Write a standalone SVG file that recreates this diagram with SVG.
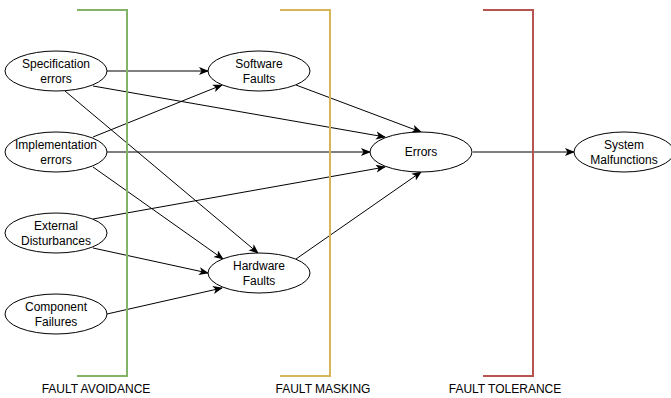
<svg xmlns="http://www.w3.org/2000/svg" width="671" height="398" viewBox="0 0 671 398">
<defs>
<style>
.n ellipse{fill:#fff;stroke:#000;stroke-width:1}
.n text,.lbl{font-family:"Liberation Sans",Arial,sans-serif;font-size:12px;fill:#000;text-anchor:middle}
.e line{stroke:#000;stroke-width:1;fill:none;marker-end:url(#arr)}
.b{fill:none;stroke-width:2}
</style>
<marker id="arr" viewBox="0 0 10 10" refX="9" refY="5" markerWidth="10" markerHeight="10" markerUnits="userSpaceOnUse" orient="auto">
<path d="M0,1 L10,5 L0,9 L2.5,5 Z" fill="#000"/>
</marker>
</defs>
<rect width="671" height="398" fill="#fff"/>
<g id="connectors" class="e">
<line x1="107" y1="71" x2="208" y2="71"/>
<line x1="93" y1="86" x2="385" y2="137"/>
<line x1="65" y1="91" x2="258" y2="253"/>
<line x1="93" y1="137" x2="222" y2="85"/>
<line x1="107" y1="152" x2="370" y2="152"/>
<line x1="93" y1="167" x2="223" y2="259"/>
<line x1="93" y1="219" x2="385" y2="167"/>
<line x1="93" y1="248" x2="208" y2="273"/>
<line x1="107" y1="314" x2="222" y2="288"/>
<line x1="296" y1="85" x2="421" y2="132"/>
<line x1="296" y1="259" x2="421" y2="172"/>
<line x1="473" y1="152" x2="574" y2="152"/>
</g>
<g id="brackets">
<polyline class="b" stroke="#82b366" points="77,10 127,10 127,376 77,376"/>
<polyline class="b" stroke="#d6b656" points="280,10 330,10 330,376 280,376"/>
<polyline class="b" stroke="#b85450" points="483,10 533,10 533,376 483,376"/>
<text class="lbl" x="96" y="393">FAULT AVOIDANCE</text>
<text class="lbl" x="323" y="393">FAULT MASKING</text>
<text class="lbl" x="505" y="393">FAULT TOLERANCE</text>
</g>
<g id="spec" class="n"><ellipse cx="56" cy="71" rx="51" ry="20"/><text x="56" y="68">Specification</text><text x="56" y="83">errors</text></g>
<g id="impl" class="n"><ellipse cx="56" cy="152" rx="51" ry="20"/><text x="56" y="149">Implementation</text><text x="56" y="164">errors</text></g>
<g id="ext" class="n"><ellipse cx="56" cy="233" rx="51" ry="20"/><text x="56" y="230">External</text><text x="56" y="245">Disturbances</text></g>
<g id="comp" class="n"><ellipse cx="56" cy="314" rx="51" ry="20"/><text x="56" y="311">Component</text><text x="56" y="326">Failures</text></g>
<g id="sw" class="n"><ellipse cx="259" cy="71" rx="51" ry="20"/><text x="259" y="68">Software</text><text x="259" y="83">Faults</text></g>
<g id="hw" class="n"><ellipse cx="259" cy="273" rx="51" ry="20"/><text x="259" y="270">Hardware</text><text x="259" y="285">Faults</text></g>
<g id="errors" class="n"><ellipse cx="421" cy="152" rx="51" ry="20"/><text x="421" y="156">Errors</text></g>
<g id="sys" class="n"><ellipse cx="624" cy="152" rx="50" ry="20"/><text x="624" y="149">System</text><text x="624" y="164">Malfunctions</text></g>
</svg>
